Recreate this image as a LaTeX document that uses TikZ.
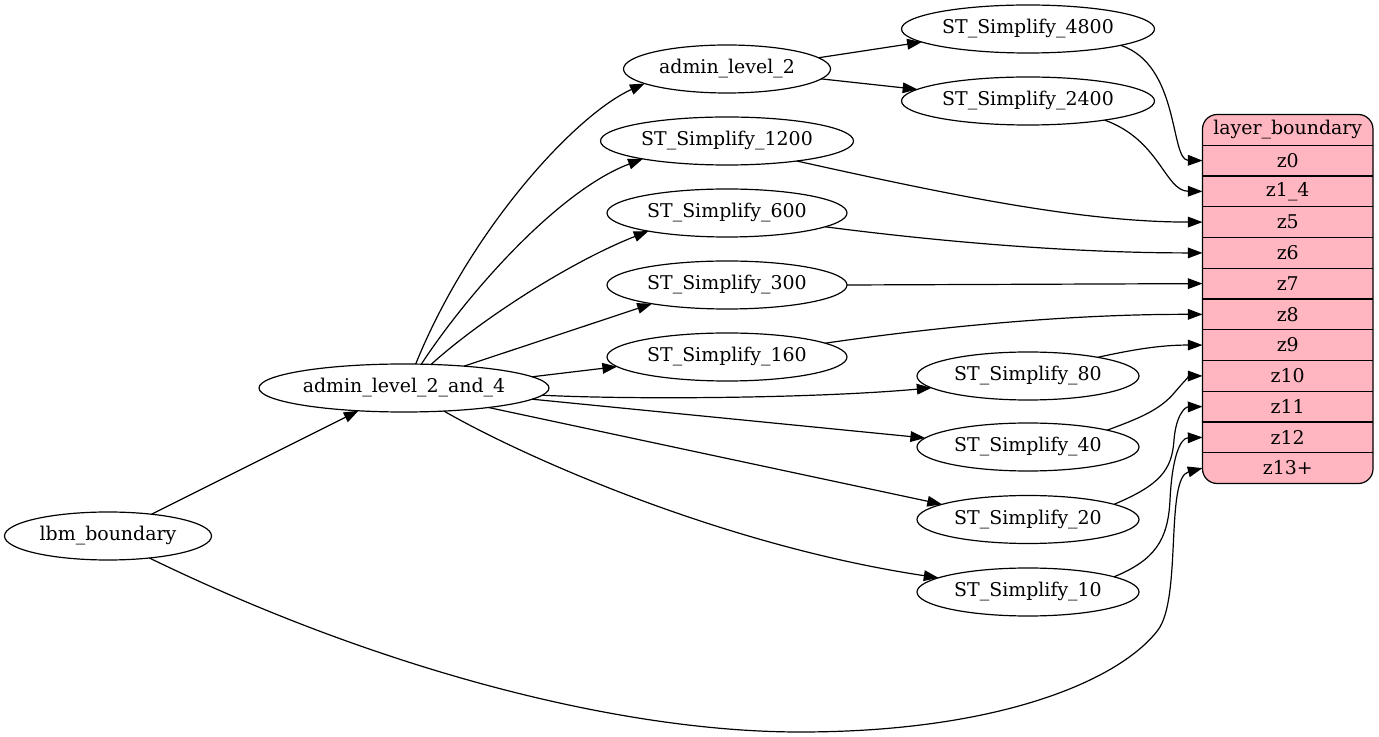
\documentclass[tikz,border=0pt]{standalone}
\usepackage{fontspec}
\setmainfont{DejaVu Serif}
\usetikzlibrary{arrows.meta,shapes.geometric}
\definecolor{lpink}{HTML}{FFB6C1}
\begin{document}
\begin{tikzpicture}[x=0.75pt,y=-0.75pt,
  font=\fontsize{14.2pt}{16pt}\selectfont,
  ell/.style 2 args={ellipse, draw, line width=0.9pt, inner sep=0pt, outer sep=0pt,
    minimum width=#1*0.75pt, minimum height=#2*0.75pt},
  rowc/.style={minimum width=170.5*0.75pt, minimum height=30.75*0.75pt, inner sep=0pt, outer sep=0pt},
  conn/.style={line width=0.9pt, -{Triangle[length=11pt,width=8pt]}}]
\useasboundingbox (0,0) rectangle (1379,737);

% nodes
\node[ell={207}{48}] (lbm) at (108,536) {lbm\_boundary};
\node[ell={290}{48}] (a24) at (404,388) {admin\_level\_2\_and\_4};
\node[ell={207}{48}] (al2) at (727,69) {admin\_level\_2};
\node[ell={253}{48}] (s4800) at (1028,29) {ST\_Simplify\_4800};
\node[ell={253}{48}] (s2400) at (1028,101) {ST\_Simplify\_2400};
\node[ell={253}{48}] (s1200) at (727,141) {ST\_Simplify\_1200};
\node[ell={240}{48}] (s600) at (727,213) {ST\_Simplify\_600};
\node[ell={240}{48}] (s300) at (727,285) {ST\_Simplify\_300};
\node[ell={240}{48}] (s160) at (727,357) {ST\_Simplify\_160};
\node[ell={222}{48}] (s80) at (1028,376) {ST\_Simplify\_80};
\node[ell={222}{48}] (s40) at (1028,447) {ST\_Simplify\_40};
\node[ell={222}{48}] (s20) at (1028,519.5) {ST\_Simplify\_20};
\node[ell={222}{48}] (s10) at (1028,592) {ST\_Simplify\_10};

% record
\node[draw, line width=0.9pt, fill=lpink, rounded corners=11pt, inner sep=0pt, outer sep=0pt,
  minimum width=170.5*0.75pt, minimum height=369*0.75pt] (rec) at (1287.75,299) {};
\node[rowc] (hdr) at (1287.75,129.9) {layer\_boundary};
\node[rowc] (z0)  at (1287.75,160.6) {z0};
\node[rowc] (z14) at (1287.75,191.4) {z1\_4};
\node[rowc] (z5)  at (1287.75,222.1) {z5};
\node[rowc] (z6)  at (1287.75,252.9) {z6};
\node[rowc] (z7)  at (1287.75,283.6) {z7};
\node[rowc] (z8)  at (1287.75,314.4) {z8};
\node[rowc] (z9)  at (1287.75,345.1) {z9};
\node[rowc] (z10) at (1287.75,375.9) {z10};
\node[rowc] (z11) at (1287.75,406.6) {z11};
\node[rowc] (z12) at (1287.75,437.4) {z12};
\node[rowc] (z13) at (1287.75,468.1) {z13+};
\foreach \r in {z0,z14,z5,z6,z7,z8,z9,z10,z11,z12,z13}
  \draw[line width=0.9pt] (\r.north west) -- (\r.north east);

% edges
\draw[conn] (lbm) -- (a24);
\draw[conn] (a24.64) .. controls (470,230) and (575,115) .. (al2.190);
\draw[conn] (a24.54) .. controls (470,290) and (560,190) .. (s1200.192);
\draw[conn] (a24.41) .. controls (480,320) and (570,262) .. (s600.193);
\draw[conn] (a24.20) -- (s300.194);
\draw[conn] (a24.5) -- (s160.185);
\draw[conn] (a24.357.5) .. controls (640,400) and (820,398) .. (s80.187);
\draw[conn] (a24.355) -- (s40.175);
\draw[conn] (a24.347) -- (s20.170);
\draw[conn] (a24.330) .. controls (520,455) and (720,545) .. (s10.171);
\draw[conn] (al2.7) -- (s4800.187.6);
\draw[conn] (al2.354) -- (s2400.174.3);

\draw[conn] (s4800.350) .. controls (1180,65) and (1170,160) .. (z0.west);
\draw[conn] (s2400.346) .. controls (1160,140) and (1165,191) .. (z14.west);
\draw[conn] (s1200.344) .. controls (950,195) and (1080,222) .. (z5.west);
\draw[conn] (s600.352) .. controls (950,243) and (1080,253) .. (z6.west);
\draw[conn] (s300.east) -- (z7.west);
\draw[conn] (s160.8) .. controls (950,325) and (1080,314) .. (z8.west);
\draw[conn] (s80.15) .. controls (1140,348) and (1165,345) .. (z9.west);
\draw[conn] (s40.12) .. controls (1140,418) and (1160,410) .. (1175,392) .. controls (1186,379) and (1190,376) .. (z10.west);
\draw[conn] (s20.10) .. controls (1160,485) and (1172,470) .. (1174,440) .. controls (1176,415) and (1185,407) .. (z11.west);
\draw[conn] (s10.10) .. controls (1155,560) and (1168,540) .. (1170,500) .. controls (1172,458) and (1180,438) .. (z12.west);
\draw[conn] (lbm.332) .. controls (380,670) and (620,732) .. (800,732) .. controls (1000,732) and (1120,680) .. (1158,630) .. controls (1182,598) and (1165,478) .. (z13.west);
\end{tikzpicture}
\end{document}
